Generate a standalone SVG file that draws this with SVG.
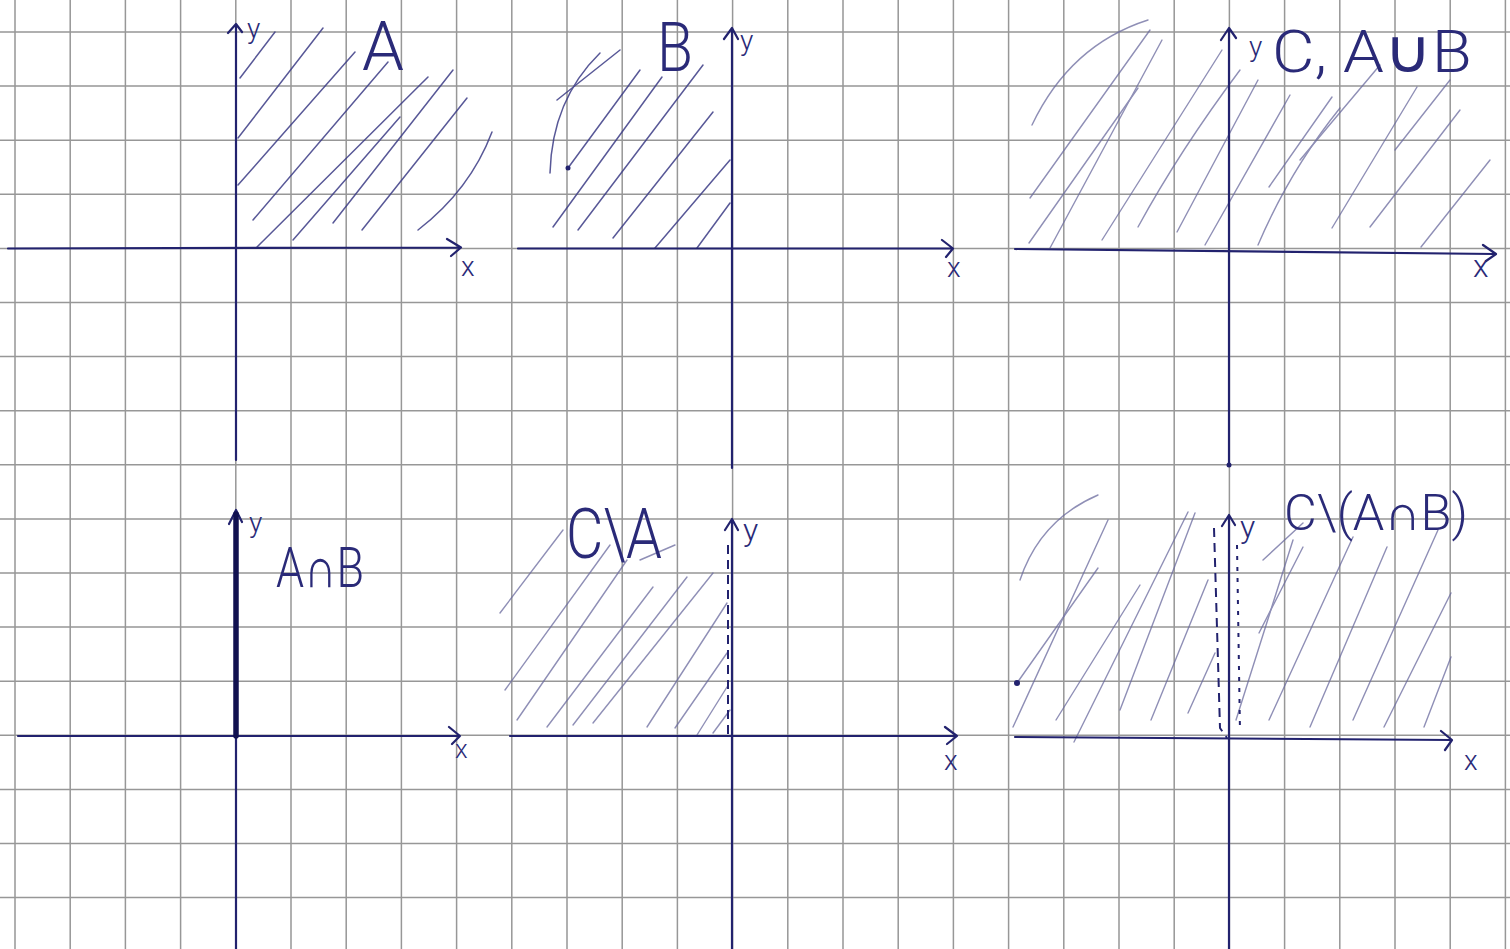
<svg xmlns="http://www.w3.org/2000/svg" width="1510" height="949" viewBox="0 0 1510 949">
<defs>
<style>
.grid{stroke:#979797;stroke-width:1.5;fill:none}
.axis{stroke:#22226e;stroke-width:2.2;fill:none;stroke-linecap:round;stroke-linejoin:round}
.hatch{stroke:#3c3c86;stroke-width:1.5;fill:none;stroke-linecap:round;opacity:0.85}
.hl{stroke:#6a6a9e;stroke-width:1.4;fill:none;stroke-linecap:round;opacity:0.75}
.lbl{font-family:"Roboto","Liberation Sans","DejaVu Sans",sans-serif;font-weight:300;fill:#2a2a78}
.small{font-size:28px}
.dash{stroke:#22226e;stroke-width:2;fill:none;stroke-dasharray:9 6}
.dot{stroke:#22226e;stroke-width:2;fill:none;stroke-dasharray:4 7}
</style>
</defs>
<rect width="1510" height="949" fill="#ffffff"/>
<g id="grid" class="grid">
<path d="M15 0V949M70.2 0V949M125.4 0V949M180.6 0V949M235.8 0V949M291 0V949M346.2 0V949M401.4 0V949M456.6 0V949M511.8 0V949M567 0V949M622.2 0V949M677.4 0V949M732.6 0V949M787.8 0V949M843 0V949M898.2 0V949M953.4 0V949M1008.6 0V949M1063.8 0V949M1119 0V949M1174.2 0V949M1229.4 0V949M1284.6 0V949M1339.8 0V949M1395 0V949M1450.2 0V949M1505.4 0V949"/>
<path d="M0 32H1510M0 86.1H1510M0 140.2H1510M0 194.3H1510M0 248.4H1510M0 302.5H1510M0 356.6H1510M0 410.7H1510M0 464.8H1510M0 518.9H1510M0 573H1510M0 627.1H1510M0 681.2H1510M0 735.3H1510M0 789.4H1510M0 843.5H1510M0 897.6H1510"/>
</g>

<g id="panel-A">
<g class="hatch">
<path d="M240 78L275 32"/>
<path d="M238 138L323 28"/>
<path d="M238 185L355 52"/>
<path d="M253 220L388 62"/>
<path d="M257 247L428 77"/>
<path d="M293 240L400 117"/>
<path d="M333 223L453 70"/>
<path d="M362 230L467 98"/>
<path d="M418 230Q470 190 492 132"/>
</g>
<path class="axis" d="M8 248.5L460 247.5M447 239L461 247.5L451 256"/>
<path class="axis" d="M236 460V24M228 33L236 24L242 32"/>
<text class="lbl small" x="247" y="38">y</text>
<text class="lbl" x="362" y="70" font-size="68" textLength="42" lengthAdjust="spacingAndGlyphs">A</text>
<text class="lbl small" x="461" y="276">x</text>
</g>

<g id="panel-B">
<g class="hatch">
<path d="M550 173Q552 100 600 53"/>
<path d="M557 100L620 50"/>
<path d="M568 168L640 70"/>
<path d="M553 227L662 77"/>
<path d="M578 230L703 65"/>
<path d="M613 238L713 112"/>
<path d="M655 248L730 160"/>
<path d="M697 248L730 203"/>
</g>
<circle cx="568" cy="168" r="2.5" fill="#22226e"/>
<path class="axis" d="M518 248.5L953 248.5M942 240L953 248.5L946 257"/>
<path class="axis" d="M732 468V28M724 39L732 28L738 39"/>
<text class="lbl small" x="740" y="50">y</text>
<text class="lbl" x="657" y="71" font-size="68" textLength="36" lengthAdjust="spacingAndGlyphs">B</text>
<text class="lbl small" x="947" y="277">x</text>
</g>

<g id="panel-C">
<g class="hl">
<path d="M1032 125Q1070 45 1148 20"/>
<path d="M1030 198L1150 30"/>
<path d="M1029 243L1138 88"/>
<path d="M1050 248L1162 40"/>
<path d="M1102 240L1222 50"/>
<path d="M1138 227Q1180 150 1240 70"/>
<path d="M1177 232L1258 80"/>
<path d="M1205 245L1290 95"/>
<path d="M1258 245Q1290 170 1340 108"/>
<path d="M1269 187L1332 97"/>
<path d="M1300 160L1380 65"/>
<path d="M1332 228L1417 87"/>
<path d="M1370 227L1460 110"/>
<path d="M1421 247L1490 160"/>
<path d="M1395 150L1450 80"/>
</g>
<path class="axis" d="M1015 249L1495 254M1483 245L1496 254L1486 261"/>
<path class="axis" d="M1229 465V28M1221 40L1229 28L1236 38"/>
<circle cx="1229" cy="465" r="2.5" fill="#22226e"/>
<text class="lbl small" x="1249" y="56">y</text>
<text class="lbl" x="1272" y="72" font-size="60" textLength="200" lengthAdjust="spacingAndGlyphs">C, A∪B</text>
<text class="lbl" x="1473" y="277" font-size="32">x</text>
</g>

<g id="panel-AnB">
<path class="axis" d="M18 736L460 736M449 727L460 736L452 744"/>
<path class="axis" d="M236 949V512M229 524L236 510L242 522"/>
<path d="M236 736V514" stroke="#111150" stroke-width="5.5" stroke-linecap="round" fill="none"/>
<text class="lbl small" x="249" y="532">y</text>
<text class="lbl" x="276" y="587" font-size="56" textLength="88" lengthAdjust="spacingAndGlyphs">A∩B</text>
<text class="lbl" x="455" y="758" font-size="26">x</text>
</g>

<g id="panel-CminusA">
<g class="hl">
<path d="M500 613L563 530"/>
<path d="M505 690L610 545"/>
<path d="M517 720L627 560"/>
<path d="M547 727L653 587"/>
<path d="M573 725L687 577"/>
<path d="M593 723L713 573"/>
<path d="M647 727L727 603"/>
<path d="M675 728L727 653"/>
<path d="M697 735L727 687"/>
<path d="M713 733L730 710"/>
<path d="M640 560L675 545"/>
</g>
<path class="axis" d="M510 736L957 736M945 727L957 736L947 744"/>
<path class="axis" d="M732 949V520M725 530L732 519L738 530"/>
<path class="dash" d="M728 545V735"/>
<text class="lbl" x="743" y="541" font-size="32">y</text>
<text class="lbl" x="566" y="558" font-size="70" textLength="96" lengthAdjust="spacingAndGlyphs">C\A</text>
<text class="lbl small" x="944" y="770">x</text>
</g>

<g id="panel-CminusAnB">
<g class="hl">
<path d="M1020 580Q1040 520 1098 495"/>
<path d="M1017 683L1098 568"/>
<path d="M1013 727L1108 520"/>
<path d="M1056 720L1140 585"/>
<path d="M1074 742L1188 512"/>
<path d="M1120 710L1195 513"/>
<path d="M1151 720L1208 580"/>
<path d="M1188 713L1215 653"/>
<path d="M1236 720L1293 540"/>
<path d="M1263 560L1303 523"/>
<path d="M1259 633L1303 547"/>
<path d="M1269 720L1353 537"/>
<path d="M1310 727L1387 547"/>
<path d="M1353 720L1438 530"/>
<path d="M1384 727L1451 593"/>
<path d="M1424 727L1451 657"/>
</g>
<circle cx="1017" cy="683" r="3" fill="#22226e"/>
<path class="axis" d="M1015 737L1452 740M1441 731L1452 740L1445 750"/>
<path class="axis" d="M1229 949V515M1222 526L1229 515L1235 525"/>
<path class="dash" d="M1214 528L1220 728L1227 738"/>
<path class="dot" d="M1237 545L1240 732"/>
<text class="lbl" x="1240" y="538" font-size="32">y</text>
<text class="lbl" x="1284" y="530" font-size="50" textLength="184" lengthAdjust="spacingAndGlyphs">C\(A∩B)</text>
<text class="lbl small" x="1464" y="770">x</text>
</g>
</svg>
